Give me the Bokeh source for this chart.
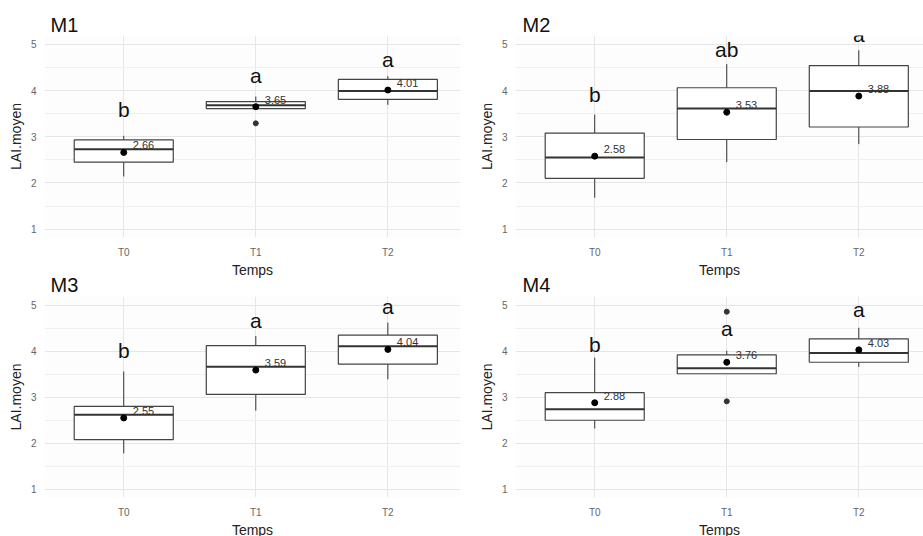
from bokeh.plotting import figure
from bokeh.models import Range1d, FixedTicker, ColumnDataSource, LabelSet, Label
from bokeh.core.properties import value
from bokeh.layouts import column, row
from bokeh.embed import file_html
from bokeh.resources import INLINE

categories = ["T0", "T1", "T2"]
y_ticks = [1, 2, 3, 4, 5]
y_minor = [1.5, 2.5, 3.5, 4.5]

# M1
m1_q1 = [2.45, 3.61, 3.81]
m1_med = [2.73, 3.68, 3.99]
m1_q3 = [2.93, 3.76, 4.24]
m1_lo = [2.14, 3.61, 3.69]
m1_hi = [3.02, 3.87, 4.31]
m1_mean = [2.66, 3.65, 4.01]
m1_out_cat = ["T1"]
m1_out_val = [3.29]
m1_letters = ["b", "a", "a"]
m1_letter_y = [3.49, 4.22, 4.57]

# M2
m2_q1 = [2.10, 2.94, 3.21]
m2_med = [2.55, 3.61, 3.99]
m2_q3 = [3.08, 4.06, 4.54]
m2_lo = [1.68, 2.45, 2.84]
m2_hi = [3.48, 4.57, 4.87]
m2_mean = [2.58, 3.53, 3.88]
m2_out_cat = []
m2_out_val = []
m2_letters = ["b", "ab", "a"]
m2_letter_y = [3.80, 4.77, 5.10]

# M3
m3_q1 = [2.08, 3.06, 3.72]
m3_med = [2.62, 3.66, 4.11]
m3_q3 = [2.80, 4.12, 4.35]
m3_lo = [1.78, 2.71, 3.39]
m3_hi = [3.56, 4.33, 4.62]
m3_mean = [2.55, 3.59, 4.04]
m3_out_cat = []
m3_out_val = []
m3_letters = ["b", "a", "a"]
m3_letter_y = [3.90, 4.57, 4.87]

# M4
m4_q1 = [2.50, 3.51, 3.76]
m4_med = [2.74, 3.63, 3.96]
m4_q3 = [3.10, 3.92, 4.27]
m4_lo = [2.32, 3.51, 3.66]
m4_hi = [3.86, 4.01, 4.51]
m4_mean = [2.88, 3.76, 4.03]
m4_out_cat = ["T1", "T1"]
m4_out_val = [4.86, 2.91]
m4_letters = ["b", "a", "a"]
m4_letter_y = [4.04, 4.38, 4.80]

FONT = "Liberation Sans"
HALF = 0.375
X0 = -0.6
Y0, Y1 = 0.82, 5.19


def panel(title, q1, med, q3, lo, hi, mean, out_cat, out_val, letters, letter_y,
          frame_w, frame_h, x_end, b_left, b_top, b_right, b_bottom, title_dx,
          title_standoff, transparent):
    p = figure(frame_width=frame_w, frame_height=frame_h,
               x_range=Range1d(X0, x_end), y_range=Range1d(Y0, Y1),
               output_backend="svg", toolbar_location=None,
               min_border_left=b_left, min_border_top=b_top,
               min_border_right=b_right, min_border_bottom=b_bottom)
    p.title.text = title
    p.title.text_font = FONT
    p.title.text_font_size = "20px"
    p.title.text_font_style = "normal"
    p.title.text_color = "#111111"
    p.title.offset = title_dx
    p.title.standoff = title_standoff
    p.outline_line_color = None
    p.background_fill_color = "#fdfdfd"
    if transparent:
        p.border_fill_color = None

    xs = list(range(len(categories)))
    p.xaxis.ticker = FixedTicker(ticks=xs)
    p.xaxis.major_label_overrides = {i: c for i, c in enumerate(categories)}
    p.yaxis.ticker = FixedTicker(ticks=y_ticks, minor_ticks=y_minor)
    for ax in (p.xaxis[0], p.yaxis[0]):
        ax.axis_line_color = None
        ax.major_tick_line_color = None
        ax.minor_tick_line_color = None
        ax.major_tick_out = 0
        ax.major_tick_in = 0
        ax.minor_tick_out = 0
        ax.minor_tick_in = 0
        ax.major_label_text_font = FONT
        ax.major_label_text_font_size = "10px"
        ax.major_label_text_color = "#666666"
        ax.axis_label_text_font = FONT
        ax.axis_label_text_font_size = "14px"
        ax.axis_label_text_font_style = "normal"
        ax.axis_label_text_color = "#222222"
    p.xaxis.major_label_standoff = 9
    p.xaxis.axis_label_standoff = 1
    p.yaxis.major_label_standoff = 8
    p.yaxis.axis_label_standoff = 4
    p.xaxis.axis_label = "Temps"
    p.yaxis.axis_label = "LAI.moyen"
    p.xgrid.ticker = FixedTicker(ticks=xs)
    p.xgrid.grid_line_color = "#e6e6e6"
    p.ygrid.grid_line_color = "#e6e6e6"
    p.ygrid.minor_grid_line_color = "#f0f0f0"

    src = ColumnDataSource(dict(
        x=xs,
        left=[x - HALF for x in xs], right=[x + HALF for x in xs],
        q1=q1, med=med, q3=q3, lo=lo, hi=hi, mean=mean,
        lab=["%.2f" % m for m in mean],
    ))
    p.segment(x0="x", x1="x", y0="q3", y1="hi", source=src, line_color="#333333", line_width=1)
    p.segment(x0="x", x1="x", y0="q1", y1="lo", source=src, line_color="#333333", line_width=1)
    p.quad(left="left", right="right", bottom="q1", top="q3", source=src,
           fill_color="white", line_color="#444444", line_width=1.2)
    p.segment(x0="left", x1="right", y0="med", y1="med", source=src,
              line_color="#333333", line_width=2)
    if out_val:
        p.scatter([categories.index(c) for c in out_cat], out_val, size=5,
                  color="#333333")
    p.scatter("x", "mean", source=src, size=6, color="black")
    p.add_layout(LabelSet(x="x", y="mean", text="lab", source=src,
                          x_offset=9, y_offset=3, text_baseline="bottom",
                          text_font=value(FONT), text_font_size=value("11px"),
                          text_color=value("#333333")))
    for x, t, ly in zip(xs, letters, letter_y):
        p.add_layout(Label(x=x, y=ly, y_offset=5, text=t, text_align="center",
                           text_baseline="alphabetic", text_font=FONT,
                           text_font_size="21px", text_color="#111111"))
    return p


p1 = panel("M1", m1_q1, m1_med, m1_q3, m1_lo, m1_hi, m1_mean, m1_out_cat, m1_out_val,
           m1_letters, m1_letter_y, 416, 202, 2.55, 44, 35, 1, 40, 6, 0, False)
p2 = panel("M2", m2_q1, m2_med, m2_q3, m2_lo, m2_hi, m2_mean, m2_out_cat, m2_out_val,
           m2_letters, m2_letter_y, 408, 202, 2.49, 54, 35, 0, 40, 7, 0, False)
p3 = panel("M3", m3_q1, m3_med, m3_q3, m3_lo, m3_hi, m3_mean, m3_out_cat, m3_out_val,
           m3_letters, m3_letter_y, 416, 201, 2.55, 44, 31, 1, 40, 6, 2, True)
p4 = panel("M4", m4_q1, m4_med, m4_q3, m4_lo, m4_hi, m4_mean, m4_out_cat, m4_out_val,
           m4_letters, m4_letter_y, 408, 201, 2.49, 54, 31, 0, 40, 7, 2, True)

top = row(p1, p2, spacing=0)
bottom = row(p3, p4, spacing=0, margin=(-15, 0, 0, 0))
layout = column(top, bottom, spacing=0)
open("out.html", "w").write(file_html(layout, INLINE))
